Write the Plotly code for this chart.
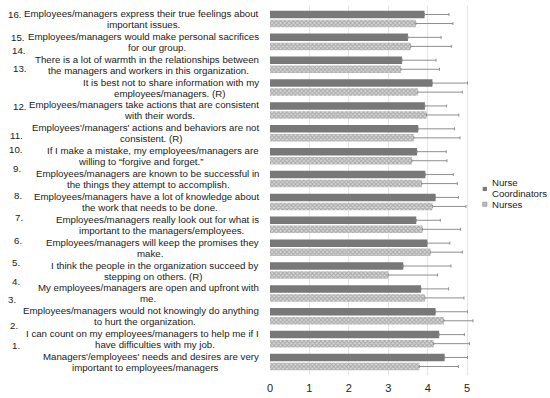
import plotly.graph_objects as go

# ---------------- data ----------------
item_numbers = [str(i) for i in range(1, 17)]
categories = ["Item " + n for n in item_numbers]

label_line1 = [
    "Managers'/employees' needs and desires are very",
    "I can count on my employees/managers to help me if I",
    "Employees/managers would not knowingly do anything",
    "My employees/managers are open and upfront with",
    "I think the people in the organization succeed by",
    "Employees/managers will keep the promises they",
    "Employees/managers really look out for what is",
    "Employees/managers have a lot of knowledge about",
    "Employees/managers are known to be successful in",
    "If I make a mistake, my employees/managers are",
    "Employees'/managers' actions and behaviors are not",
    "Employees/managers take actions that are consistent",
    "It is best not to share information with my",
    "There is a lot of warmth in the relationships between",
    "Employees/managers would make personal sacrifices",
    "Employees/managers express their true feelings about",
]
label_line2 = [
    "important to employees/managers",
    "have difficulties with my job.",
    "to hurt the organization.",
    "me.",
    "stepping on others. (R)",
    "make.",
    "important to the managers/employees.",
    "the work that needs to be done.",
    "the things they attempt to accomplish.",
    "willing to \u201cforgive and forget.\u201d",
    "consistent. (R)",
    "with their words.",
    "employees/managers. (R)",
    "the managers and workers in this organization.",
    "for our group.",
    "important issues.",
]

nurse_coord_mean = [4.43, 4.29, 4.20, 3.83, 3.38, 3.99, 3.71, 4.20,
                    3.94, 3.73, 3.76, 3.93, 4.12, 3.35, 3.50, 3.92]
nurse_coord_sd = [0.58, 0.64, 0.81, 0.70, 1.21, 0.57, 0.61, 0.58,
                  0.71, 0.74, 0.92, 0.55, 0.89, 0.86, 0.84, 0.62]
nurses_mean = [3.79, 4.15, 4.41, 3.93, 3.00, 4.07, 3.87, 4.12,
               3.85, 3.60, 3.65, 3.97, 3.75, 3.32, 3.57, 3.70]
nurses_sd = [0.99, 0.91, 0.74, 0.99, 1.25, 0.81, 0.96, 0.85,
             0.90, 0.89, 1.17, 0.82, 1.13, 0.98, 1.03, 0.94]

x_tick_values = [0, 1, 2, 3, 4, 5]
legend_names = ["Nurse", "Coordinators", "Nurses"]

# ---------------- label layout (pixels) ----------------
num_left_px = [10, 8, 6, 10, 10, 12, 13, 12, 11, 7, 8, 11, 11, 10, 9, 6]
num_dy_px = [-16.9, -13.8, -16.3, -11.6, -8.5, -7, -7.3, -6.5,
             -10.1, -6.3, 1.8, -4.1, -18.7, -14.6, -4.8, -4.4]
line2_center_px = [145.5, 154.5, 144.5, 148, 153, 150, 161, 149.5,
                   148.5, 140, 151, 159.5, 169, 148, 157, 143]
line1_right_px = 261

L, R, T, B = 270, 75, 6, 22.5
W = 550 - L - R
H = 398 - T - B
FONT = "Liberation Sans, Arial, sans-serif"
LABEL_SIZE = 9.7
TEXT_COLOR = "#1a1a1a"


def px2paper_x(px):
    return (px - L) / W


def px2paper_y(py):
    return 1 - (py - T) / H


fig = go.Figure()

fig.add_trace(go.Bar(
    y=categories, x=nurses_mean, orientation="h", name="Nurses",
    marker=dict(color="#c8c8c8", line=dict(width=0),
                pattern=dict(shape="x", fgcolor="#7c7c7c", bgcolor="#dadada",
                             size=3, solidity=0.6)),
    error_x=dict(type="data", array=nurses_sd, arrayminus=[0] * 16,
                 symmetric=False, color="#8f8f8f", thickness=1, width=1.5),
    showlegend=False,
))
fig.add_trace(go.Bar(
    y=categories, x=nurse_coord_mean, orientation="h", name="Nurse Coordinators",
    marker=dict(color="#787878", line=dict(width=0)),
    error_x=dict(type="data", array=nurse_coord_sd, arrayminus=[0] * 16,
                 symmetric=False, color="#8f8f8f", thickness=1, width=1.5),
    showlegend=False,
))

annotations = []
for i, cat in enumerate(categories):
    annotations.append(dict(
        text=item_numbers[i] + ".", xref="paper", yref="y",
        x=px2paper_x(num_left_px[i]), y=cat, xanchor="left", yanchor="middle",
        yshift=-num_dy_px[i], showarrow=False,
        font=dict(family=FONT, size=LABEL_SIZE, color=TEXT_COLOR)))
    annotations.append(dict(
        text=label_line1[i], xref="paper", yref="y",
        x=px2paper_x(line1_right_px), y=cat, xanchor="right", yanchor="middle",
        yshift=5.5, showarrow=False,
        font=dict(family=FONT, size=LABEL_SIZE, color=TEXT_COLOR)))
    annotations.append(dict(
        text=label_line2[i], xref="paper", yref="y",
        x=px2paper_x(line2_center_px[i]), y=cat, xanchor="center", yanchor="middle",
        yshift=-5.5, showarrow=False,
        font=dict(family=FONT, size=LABEL_SIZE, color=TEXT_COLOR)))

# manual legend
legend_text_y_px = [182.3, 193.3, 205]
for name, py in zip(legend_names, legend_text_y_px):
    annotations.append(dict(
        text=name, xref="paper", yref="paper", x=px2paper_x(489.5),
        y=px2paper_y(py), xanchor="left", yanchor="middle", showarrow=False,
        font=dict(family=FONT, size=9.6, color=TEXT_COLOR)))

shapes = [
    dict(type="rect", xref="paper", yref="paper",
         x0=px2paper_x(482.7), x1=px2paper_x(486.9),
         y0=px2paper_y(191.3), y1=px2paper_y(187.1),
         fillcolor="#787878", line=dict(width=0)),
    dict(type="rect", xref="paper", yref="paper",
         x0=px2paper_x(482.7), x1=px2paper_x(486.9),
         y0=px2paper_y(206.6), y1=px2paper_y(202.4),
         fillcolor="#bdbdbd", line=dict(width=0.6, color="#8a8a8a")),
]

fig.update_layout(
    width=550, height=398,
    margin=dict(l=L, r=R, t=T, b=B, autoexpand=False),
    paper_bgcolor="white", plot_bgcolor="white",
    barmode="group", bargap=0.21, bargroupgap=0.17,
    font=dict(family=FONT, size=10, color="#222"),
    showlegend=False,
    xaxis=dict(range=[0, 5.2], tickvals=x_tick_values, showgrid=True,
               gridcolor="#e6e6e6", gridwidth=1, zeroline=False,
               showline=False, ticks="", ticklabelstandoff=5,
               tickfont=dict(size=11, color="#222")),
    yaxis=dict(type="category", categoryorder="array", categoryarray=categories,
               showticklabels=False, showgrid=False, zeroline=False, showline=False),
    annotations=annotations,
    shapes=shapes,
)

fig.write_html(
    "out.html",
    config={"displayModeBar": False},
    post_script="document.body.style.margin='0px';document.body.style.overflow='hidden';",
)
